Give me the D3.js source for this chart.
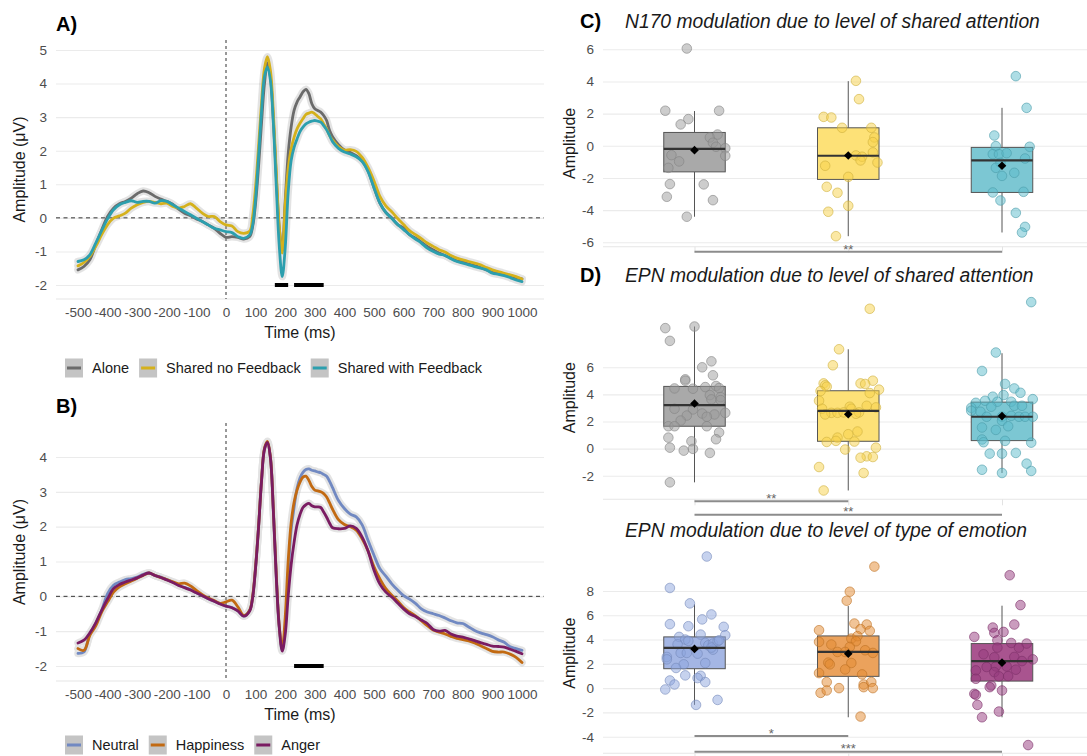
<!DOCTYPE html>
<html><head><meta charset="utf-8">
<script src="https://cdn.jsdelivr.net/npm/d3@7"></script>
<style>
body{margin:0;background:#fff;}
svg text{font-family:"Liberation Sans",Arial,Helvetica,sans-serif;}
</style></head><body>
<svg id="chart" width="1087" height="756"></svg>
<script>
// ---------------- ERP data ----------------
const timesMs = [-500,-480,-460,-440,-420,-400,-380,-360,-340,-320,-300,-280,-260,-240,-220,-200,-180,-160,-140,-120,-100,-80,-60,-40,-20,0,20,40,60,80,
 90,100,110,120,130,140,150,160,170,180,190,200,210,220,230,240,250,260,270,280,290,300,310,320,330,340,350,360,
 380,400,420,440,460,480,500,520,540,560,580,600,620,640,660,680,700,720,740,760,780,800,820,840,860,880,900,920,940,960,980,1000];

const erpAlone = [-1.55,-1.45,-1.25,-0.80,-0.36,0.04,0.29,0.42,0.49,0.59,0.72,0.80,0.75,0.64,0.56,0.49,0.41,0.26,0.14,0.06,-0.03,-0.11,-0.21,-0.31,-0.46,-0.58,-0.56,-0.58,-0.63,-0.56,
 -0.26,0.44,1.53,2.82,4.00,4.62,4.20,2.92,1.23,-0.30,-0.92,0.50,1.90,2.70,3.20,3.45,3.60,3.75,3.83,3.70,3.40,3.25,3.20,3.15,3.05,2.90,2.60,2.42,
 2.18,2.02,1.95,1.85,1.70,1.40,0.90,0.44,0.16,0.00,-0.20,-0.30,-0.50,-0.60,-0.72,-0.85,-0.95,-1.05,-1.12,-1.20,-1.28,-1.30,-1.38,-1.42,-1.48,-1.55,-1.62,-1.65,-1.70,-1.72,-1.78,-1.82];
const erpSharedNoFb = [-1.43,-1.33,-1.15,-0.85,-0.50,-0.20,-0.01,0.06,0.14,0.29,0.39,0.46,0.49,0.46,0.42,0.44,0.34,0.29,0.34,0.42,0.29,0.14,0.04,0.04,-0.11,-0.21,-0.24,-0.41,-0.46,-0.40,
 0.05,0.93,2.13,3.42,4.46,4.80,4.40,3.12,1.33,-0.26,-1.05,0.40,1.45,2.05,2.40,2.65,2.82,2.95,3.08,3.12,3.15,3.10,3.02,2.95,2.80,2.65,2.45,2.32,
 2.12,2.02,2.03,1.98,1.80,1.50,1.10,0.64,0.36,0.18,-0.02,-0.20,-0.38,-0.50,-0.62,-0.75,-0.85,-0.95,-1.02,-1.12,-1.20,-1.25,-1.30,-1.35,-1.40,-1.48,-1.55,-1.60,-1.65,-1.70,-1.75,-1.82];
const erpSharedFb = [-1.30,-1.25,-1.10,-0.75,-0.38,-0.03,0.24,0.39,0.46,0.51,0.46,0.49,0.49,0.44,0.51,0.49,0.39,0.29,0.19,0.09,-0.01,-0.11,-0.21,-0.31,-0.36,-0.41,-0.44,-0.56,-0.61,-0.51,
 -0.21,0.59,1.83,3.17,4.21,4.50,4.10,2.82,0.93,-0.85,-1.75,-0.90,0.75,1.70,2.10,2.35,2.57,2.70,2.80,2.85,2.88,2.90,2.88,2.85,2.75,2.62,2.45,2.27,
 2.07,1.96,1.90,1.82,1.68,1.38,0.90,0.44,0.16,-0.02,-0.20,-0.35,-0.50,-0.63,-0.75,-0.90,-1.00,-1.08,-1.12,-1.22,-1.30,-1.35,-1.40,-1.45,-1.50,-1.55,-1.65,-1.68,-1.72,-1.78,-1.85,-1.90];

const erpNeutral = [-1.64,-1.60,-1.08,-0.78,-0.40,0.08,0.32,0.41,0.48,0.51,0.55,0.63,0.67,0.60,0.55,0.48,0.41,0.32,0.25,0.20,0.10,0.02,-0.07,-0.14,-0.21,-0.28,-0.32,-0.42,-0.57,-0.40,
 -0.02,0.84,1.99,3.32,4.23,4.42,3.99,2.46,0.55,-0.88,-1.55,-0.90,0.60,1.90,2.55,3.10,3.40,3.56,3.64,3.66,3.62,3.60,3.57,3.55,3.50,3.45,3.30,3.12,
 2.75,2.52,2.36,2.28,2.05,1.60,1.18,0.79,0.58,0.36,0.18,0.02,-0.08,-0.20,-0.36,-0.45,-0.50,-0.55,-0.62,-0.70,-0.76,-0.78,-0.88,-0.98,-1.05,-1.10,-1.16,-1.25,-1.32,-1.45,-1.50,-1.55];
const erpHappiness = [-1.50,-1.55,-1.12,-0.85,-0.45,-0.16,0.12,0.27,0.36,0.44,0.52,0.60,0.67,0.60,0.54,0.48,0.42,0.36,0.38,0.30,0.17,0.05,-0.05,-0.12,-0.20,-0.16,-0.11,-0.30,-0.55,-0.40,
 0.00,0.86,2.00,3.33,4.25,4.45,4.00,2.50,0.60,-0.85,-1.50,-0.60,1.00,2.10,2.70,3.05,3.28,3.42,3.45,3.33,3.15,3.05,3.03,3.00,2.95,2.85,2.68,2.50,
 2.20,2.06,2.00,1.90,1.65,1.30,0.85,0.50,0.22,0.03,-0.13,-0.32,-0.45,-0.56,-0.70,-0.84,-0.97,-1.03,-1.08,-1.15,-1.21,-1.24,-1.28,-1.34,-1.42,-1.50,-1.58,-1.60,-1.60,-1.66,-1.75,-1.90];
const erpAnger = [-1.34,-1.26,-1.05,-0.76,-0.40,-0.07,0.22,0.34,0.41,0.47,0.53,0.61,0.67,0.60,0.54,0.47,0.40,0.31,0.25,0.18,0.10,0.02,-0.07,-0.14,-0.22,-0.28,-0.33,-0.42,-0.57,-0.42,
 -0.04,0.82,1.98,3.30,4.22,4.42,3.98,2.44,0.52,-0.90,-1.57,-1.10,0.00,0.90,1.55,2.05,2.35,2.55,2.63,2.67,2.60,2.57,2.57,2.55,2.42,2.27,2.10,1.97,
 1.94,1.95,2.02,1.95,1.70,1.30,0.75,0.35,0.12,-0.02,-0.19,-0.36,-0.50,-0.58,-0.68,-0.78,-0.95,-1.00,-0.98,-1.08,-1.14,-1.17,-1.22,-1.27,-1.33,-1.38,-1.43,-1.44,-1.46,-1.52,-1.58,-1.65];

const erpTicksX = [-500,-400,-300,-200,-100,0,100,200,300,400,500,600,700,800,900,1000];
const erpTicksYA = [-2,-1,0,1,2,3,4,5];
const erpTicksYB = [-2,-1,0,1,2,3,4];
const sigWindowsA = [[165,210],[230,330]];
const sigWindowsB = [[230,330]];
const attentionNames = ["Alone","Shared no Feedback","Shared with Feedback"];
const emotionNames = ["Neutral","Happiness","Anger"];

// ---------------- Box-plot data ----------------
const ticksC = [-6,-4,-2,0,2,4,6];
const ticksD = [-2,0,2,4,6];
const ticksE = [-4,-2,0,2,4,6,8];

const n170Q1 = [-1.62,-2.09,-2.90], n170Med = [-0.19,-0.62,-0.91], n170Q3 = [0.83,1.12,-0.10];
const n170Lo = [-4.41,-5.62,-5.39], n170Hi = [2.16,4.02,2.36], n170Mean = [-0.27,-0.60,-1.24];
const n170AloneVals = [6.05,2.18,2.18,1.66,1.33,0.52,0.70,0.19,-0.06,-0.15,-0.62,-0.58,-0.97,-1.37,-2.38,-2.40,-3.17,-3.38,-4.41];
const n170AloneJit  = [-0.05,-0.19,0.16,-0.04,-0.09,0.10,0.15,0.12,0.14,0.20,0.20,-0.15,-0.10,-0.17,-0.16,0.06,-0.18,0.12,-0.05];
const n170NoFbVals = [4.04,2.90,1.80,1.76,1.12,1.12,0.52,0.23,-0.41,-0.60,-0.68,-0.91,-1.04,-1.24,-1.93,-2.55,-2.92,-3.73,-4.10,-5.62];
const n170NoFbJit  = [0.05,0.07,-0.16,-0.11,-0.04,0.15,0.17,0.16,0.16,0.05,0.09,0.08,0.19,-0.15,0.00,-0.14,-0.07,0.00,-0.13,-0.08];
const n170FbVals = [4.33,2.36,0.64,-0.02,-0.06,-0.52,-0.52,-0.46,-0.79,-1.06,-1.37,-1.87,-1.68,-2.90,-2.86,-3.40,-4.17,-5.04,-5.39];
const n170FbJit  = [0.09,0.16,-0.05,-0.04,0.18,-0.06,-0.02,0.03,0.15,-0.01,-0.04,0.00,0.08,-0.06,0.14,-0.01,0.09,0.15,0.13];

const epnAttQ1 = [1.65,0.54,0.59], epnAttMed = [3.21,2.79,2.35], epnAttQ3 = [4.59,4.27,3.43];
const epnAttLo = [-2.49,-3.09,-1.80], epnAttHi = [9.01,7.33,7.04], epnAttMean = [3.33,2.54,2.40];
const epnAloneVals = [8.89,9.01,7.95,6.44,6.00,5.41,5.11,5.01,4.44,4.42,4.54,4.62,4.47,3.95,3.63,3.80,3.58,2.94,2.89,2.59,2.64,2.44,2.52,2.35,2.07,1.65,1.65,1.65,1.19,0.81,0.69,0.54,0.07,-0.02,-0.15,-0.32,-2.49];
const epnAloneJit  = [-0.19,0.00,-0.16,0.11,0.05,0.12,-0.06,-0.06,-0.13,-0.01,0.07,0.14,0.16,0.10,0.11,0.17,0.17,-0.13,-0.01,0.05,0.20,-0.05,0.13,0.08,-0.09,-0.17,-0.13,0.08,0.16,-0.17,0.14,-0.02,-0.16,-0.01,-0.07,0.10,-0.16];
const epnNoFbVals = [10.32,7.33,6.15,4.81,4.67,4.57,4.25,5.01,4.81,4.77,4.35,4.10,3.53,3.16,3.09,2.94,3.04,2.94,2.64,2.52,2.64,2.67,2.67,2.57,1.26,1.06,0.81,0.49,0.57,0.52,0.07,-0.07,-0.57,-0.67,-0.62,-1.36,-1.80,-3.09];
const epnNoFbJit  = [0.14,-0.06,-0.10,-0.16,-0.15,-0.14,-0.18,0.16,0.08,0.11,0.20,0.14,-0.19,0.12,0.01,0.02,0.18,-0.17,-0.11,-0.15,-0.07,-0.03,0.07,0.05,0.06,0.00,-0.07,-0.14,-0.08,0.04,0.18,-0.02,0.12,0.08,0.16,-0.19,0.10,-0.16];
const epnFbVals = [10.81,7.09,5.73,4.77,4.44,4.12,3.83,3.95,3.38,3.53,3.46,3.46,3.65,3.01,2.72,3.09,3.16,3.16,2.79,2.35,2.35,2.42,2.35,2.35,2.35,2.05,1.65,1.56,1.38,0.67,0.47,0.57,0.44,-0.37,-0.37,-0.32,-1.56,-1.80,-1.11,-1.65];
const epnFbJit  = [0.19,-0.04,-0.13,0.02,0.08,0.12,-0.06,0.01,-0.17,-0.11,-0.03,0.06,0.20,-0.20,-0.14,-0.07,0.08,0.13,-0.20,-0.10,0.00,0.06,0.11,0.15,0.20,0.00,0.04,-0.13,-0.04,-0.13,-0.12,0.02,0.19,-0.08,0.00,0.09,-0.13,0.00,0.16,0.19];

const epnEmoQ1 = [1.60,0.97,0.58], epnEmoMed = [3.31,2.98,2.23], epnEmoQ3 = [4.22,4.30,3.67];
const epnEmoLo = [-1.38,-2.40,-2.40], epnEmoHi = [6.90,6.76,6.79], epnEmoMean = [3.23,2.84,2.10];
const neutralVals = [10.84,8.25,6.98,6.07,5.66,5.27,5.10,5.05,4.36,4.41,4.22,4.00,3.89,3.61,3.72,3.53,3.67,3.86,3.94,3.17,3.34,2.57,2.37,2.90,2.90,2.84,1.96,2.07,1.66,1.05,1.02,0.83,0.63,0.30,0.50,-0.11,-0.97,-1.38];
const neutralJit  = [0.08,-0.16,-0.03,0.11,0.05,-0.16,-0.04,0.19,0.20,0.04,-0.10,-0.06,-0.04,-0.11,0.07,0.09,0.12,0.15,0.16,0.12,0.11,-0.18,-0.18,-0.09,-0.05,0.02,-0.07,0.07,-0.12,-0.06,0.04,0.02,-0.16,-0.13,0.07,-0.19,0.15,0.01];
const happinessVals = [10.01,7.94,7.20,5.32,5.24,4.77,4.86,4.72,4.08,4.28,3.86,3.81,3.59,3.12,2.90,2.98,3.39,2.98,2.10,1.96,2.07,1.54,1.24,1.13,0.50,0.30,0.50,0.08,0.00,0.00,-0.39,-0.19,-2.34];
const happinessJit  = [0.17,0.01,-0.01,0.04,0.12,-0.19,0.08,0.14,0.02,0.06,0.05,-0.19,-0.11,0.11,0.16,-0.07,0.01,-0.02,-0.13,-0.12,0.02,-0.02,-0.19,0.09,-0.14,0.10,0.15,0.10,0.16,-0.06,-0.18,-0.14,0.08];
const angerVals = [9.30,6.84,5.24,4.99,4.55,4.22,4.63,3.94,3.72,3.34,3.67,3.34,2.79,2.54,2.57,2.23,2.37,1.74,1.79,1.79,1.46,1.32,1.52,0.97,0.99,0.77,0.22,0.08,-0.19,-0.47,-0.55,-1.38,-1.93,-2.40,-4.69];
const angerJit  = [0.05,0.12,0.08,-0.06,-0.05,-0.18,0.01,-0.03,0.06,0.11,0.16,-0.03,-0.12,-0.05,0.08,0.13,0.20,-0.10,-0.04,0.03,-0.17,-0.05,0.09,-0.02,0.04,-0.17,-0.07,-0.08,0.00,-0.18,-0.17,-0.16,-0.02,-0.13,0.17];

const bracketsC = [{from:1,to:3,label:"**"}];
const bracketsD = [{from:1,to:2,label:"**"},{from:1,to:3,label:"**"}];
const bracketsE = [{from:1,to:2,label:"*"},{from:1,to:3,label:"***"}];

// ---------------- styles ----------------
const lineColors = {Alone:"#6b6b6b","Shared no Feedback":"#d5b11c","Shared with Feedback":"#2c9fae",
  Neutral:"#7189c2",Happiness:"#c26a12",Anger:"#7a1c62"};
const boxFill = ["#a9a9a9","#fde177","#7cc7d3"];
const ptColor = ["#9c9c9c","#f7d24a","#5cbccb"];
const boxFillE = ["#a4b6e4","#eba25c","#a9548f"];
const ptColorE = ["#8ea5de","#e3892f","#963a7d"];

const svg = d3.select("#chart");
const FONT = '"Liberation Sans",Arial,Helvetica,sans-serif';
const plainNum = d => String(d);

function styleAxisText(sel, size){
  sel.attr("font-family",FONT).attr("font-size",size);
  sel.select(".domain").remove();
  sel.selectAll("text").attr("fill","#4d4d4d");
}

// ---------------- ERP panels ----------------
function erpPanel(cfg){
  const g = svg.append("g");
  const L = 56, R = 544;
  const x = d3.scaleLinear().domain([-500,1000]).range([78,522]);
  const y = d3.scaleLinear().domain(cfg.yRef).range(cfg.yRefPx);
  g.append("g").attr("transform",`translate(${L},0)`)
    .call(d3.axisLeft(y).tickValues(cfg.yTicks).tickSize(-(R-L)).tickFormat(""))
    .call(s=>{s.select(".domain").remove(); s.selectAll("line").attr("stroke","#ebebeb").attr("stroke-width",1.1);});
  g.append("line").attr("x1",L).attr("x2",R).attr("y1",cfg.bottom).attr("y2",cfg.bottom).attr("stroke","#e6e6e6").attr("stroke-width",1.1);
  g.append("g").attr("transform",`translate(${L},0)`)
    .call(d3.axisLeft(y).tickValues(cfg.yTicks).tickSize(0).tickPadding(9).tickFormat(plainNum))
    .call(s=>styleAxisText(s,13.5));
  g.append("g").attr("transform",`translate(0,${cfg.bottom})`)
    .call(d3.axisBottom(x).tickValues(erpTicksX).tickSize(0).tickPadding(8).tickFormat(plainNum))
    .call(s=>styleAxisText(s,13.5));
  g.append("line").attr("x1",L).attr("x2",R).attr("y1",y(0)).attr("y2",y(0))
    .attr("stroke","#333").attr("stroke-width",1).attr("stroke-dasharray","4,3.5");
  g.append("line").attr("x1",x(0)).attr("x2",x(0)).attr("y1",cfg.top).attr("y2",cfg.bottom)
    .attr("stroke","#333").attr("stroke-width",1).attr("stroke-dasharray","3,3");
  const line = d3.line().x((d,i)=>x(timesMs[i])).y(d=>y(d)).curve(d3.curveCatmullRom.alpha(0.5));
  const rib = g.append("g").attr("opacity",0.2);
  cfg.series.forEach(s=>rib.append("path").attr("d",line(s.values)).attr("fill","none")
    .attr("stroke","#7a7a7a").attr("stroke-width",7.5).attr("stroke-linejoin","round").attr("stroke-linecap","round"));
  cfg.series.forEach(s=>g.append("path").attr("d",line(s.values)).attr("fill","none")
    .attr("stroke",lineColors[s.name]).attr("stroke-width",2.8).attr("stroke-linejoin","round").attr("stroke-linecap","round"));
  cfg.sig.forEach(w=>g.append("line").attr("x1",x(w[0])).attr("x2",x(w[1])).attr("y1",y(-2)).attr("y2",y(-2))
    .attr("stroke","#000").attr("stroke-width",4));
  g.append("text").attr("x",(L+R)/2).attr("y",cfg.bottom+39).attr("text-anchor","middle")
    .attr("font-size",16).attr("fill","#1a1a1a").text("Time (ms)");
  g.append("text").attr("transform",`translate(25,${(cfg.top+cfg.bottom)/2}) rotate(-90)`).attr("text-anchor","middle")
    .attr("font-size",16).attr("fill","#1a1a1a").text("Amplitude (\u03bcV)");
  g.append("text").attr("x",56).attr("y",cfg.labelY).attr("font-size",20).attr("font-weight","bold").attr("fill","#000").text(cfg.label);
  let lx = 65;
  cfg.series.forEach(s=>{
    g.append("rect").attr("x",lx).attr("y",cfg.legendY-9.5).attr("width",18).attr("height",19).attr("fill","#c4c4c4");
    g.append("line").attr("x1",lx+2).attr("x2",lx+16).attr("y1",cfg.legendY).attr("y2",cfg.legendY)
      .attr("stroke",lineColors[s.name]).attr("stroke-width",3);
    const t = g.append("text").attr("x",lx+27).attr("y",cfg.legendY+5).attr("font-size",14.5).attr("fill","#1a1a1a").text(s.name);
    lx = lx + 27 + t.node().getComputedTextLength() + 10;
  });
}

erpPanel({yRef:[-2,5], yRefPx:[285,50], yTicks:erpTicksYA, top:40, bottom:299, sig:sigWindowsA,
  label:"A)", labelY:31, legendY:368,
  series:[{name:attentionNames[0],values:erpAlone},{name:attentionNames[1],values:erpSharedNoFb},{name:attentionNames[2],values:erpSharedFb}]});
erpPanel({yRef:[-2,4], yRefPx:[666,457], yTicks:erpTicksYB, top:423, bottom:681, sig:sigWindowsB,
  label:"B)", labelY:413, legendY:745,
  series:[{name:emotionNames[0],values:erpNeutral},{name:emotionNames[1],values:erpHappiness},{name:emotionNames[2],values:erpAnger}]});

// ---------------- Box panels ----------------
function boxPanel(cfg){
  const g = svg.append("g");
  const L = 603, R = 1087;
  const x = d3.scaleLinear().domain([1,3]).range([694.5,1002]);
  const y = d3.scaleLinear().domain(cfg.yRef).range(cfg.yRefPx);
  g.append("g").attr("transform",`translate(${L},0)`)
    .call(d3.axisLeft(y).tickValues(cfg.ticks).tickSize(-(R-L)).tickFormat(""))
    .call(s=>{s.select(".domain").remove(); s.selectAll("line").attr("stroke","#ebebeb").attr("stroke-width",1.1);});
  g.append("line").attr("x1",L).attr("x2",R).attr("y1",cfg.bottom).attr("y2",cfg.bottom).attr("stroke","#e6e6e6").attr("stroke-width",1.1);
  g.append("g").attr("transform",`translate(0,${cfg.bottom})`)
    .call(d3.axisBottom(x).tickValues([1,2,3]).tickSize(6).tickFormat(""))
    .call(s=>{s.select(".domain").remove(); s.selectAll("line").attr("stroke","#e3e3e3").attr("stroke-width",1);});
  g.append("g").attr("transform",`translate(${L},0)`)
    .call(d3.axisLeft(y).tickValues(cfg.ticks).tickSize(0).tickPadding(9).tickFormat(plainNum))
    .call(s=>styleAxisText(s,13.5));
  g.append("text").attr("transform",`translate(575,${(cfg.top+cfg.bottom)/2}) rotate(-90)`).attr("text-anchor","middle")
    .attr("font-size",16).attr("fill","#1a1a1a").text("Amplitude");
  if(cfg.letter) g.append("text").attr("x",580).attr("y",cfg.titleY).attr("font-size",20).attr("font-weight","bold").attr("fill","#000").text(cfg.letter);
  g.append("text").attr("x",625).attr("y",cfg.titleY).attr("font-size",19.3).attr("font-style","italic").attr("fill","#1a1a1a").text(cfg.title);
  const hw = 0.2;
  cfg.q1.forEach((q,i)=>{
    const c = i+1;
    g.append("line").attr("x1",x(c)).attr("x2",x(c)).attr("y1",y(cfg.hi[i])).attr("y2",y(cfg.q3[i])).attr("stroke","#555").attr("stroke-width",1);
    g.append("line").attr("x1",x(c)).attr("x2",x(c)).attr("y1",y(cfg.q1[i])).attr("y2",y(cfg.lo[i])).attr("stroke","#555").attr("stroke-width",1);
    g.append("rect").attr("x",x(c-hw)).attr("width",x(c+hw)-x(c-hw)).attr("y",y(cfg.q3[i])).attr("height",y(cfg.q1[i])-y(cfg.q3[i]))
      .attr("fill",cfg.fills[i]).attr("stroke","#555").attr("stroke-width",1);
  });
  cfg.points.forEach((p,i)=>{
    const c = i+1;
    g.append("g").selectAll("circle").data(p.vals).join("circle")
      .attr("cx",(d,k)=>x(c+p.jit[k])).attr("cy",d=>y(d)).attr("r",4.8)
      .attr("fill",cfg.ptColors[i]).attr("fill-opacity",0.5)
      .attr("stroke",d3.color(cfg.ptColors[i]).darker(0.5)).attr("stroke-opacity",0.6).attr("stroke-width",1);
  });
  cfg.q1.forEach((q,i)=>{
    const c = i+1;
    g.append("line").attr("x1",x(c-hw)).attr("x2",x(c+hw)).attr("y1",y(cfg.med[i])).attr("y2",y(cfg.med[i]))
      .attr("stroke","#333").attr("stroke-width",2.2);
    const mx = x(c), my = y(cfg.mean[i]), r = 4.3;
    g.append("path").attr("d",`M${mx},${my-r}L${mx+r},${my}L${mx},${my+r}L${mx-r},${my}Z`).attr("fill","#000");
  });
  cfg.brackets.forEach((b,k)=>{
    const yy = cfg.bracketY[k];
    g.append("line").attr("x1",x(b.from)).attr("x2",x(b.to)).attr("y1",yy).attr("y2",yy).attr("stroke","#8c8c8c").attr("stroke-width",2);
    g.append("text").attr("x",(x(b.from)+x(b.to))/2).attr("y",yy+cfg.labelOff).attr("text-anchor","middle")
      .attr("font-size",13).attr("fill","#666").text(b.label);
  });
}

boxPanel({letter:"C)", title:"N170 modulation due to level of shared attention", titleY:28,
  yRef:[-6,6], yRefPx:[242.3,49.3], ticks:ticksC, top:40, bottom:246.7,
  q1:n170Q1, med:n170Med, q3:n170Q3, lo:n170Lo, hi:n170Hi, mean:n170Mean, fills:boxFill, ptColors:ptColor,
  points:[{vals:n170AloneVals,jit:n170AloneJit},{vals:n170NoFbVals,jit:n170NoFbJit},{vals:n170FbVals,jit:n170FbJit}],
  brackets:bracketsC, bracketY:[251.7], labelOff:2.5});
boxPanel({letter:"D)", title:"EPN modulation due to level of shared attention", titleY:282,
  yRef:[-2,6], yRefPx:[475.7,367.3], ticks:ticksD, top:296, bottom:499.3,
  q1:epnAttQ1, med:epnAttMed, q3:epnAttQ3, lo:epnAttLo, hi:epnAttHi, mean:epnAttMean, fills:boxFill, ptColors:ptColor,
  points:[{vals:epnAloneVals,jit:epnAloneJit},{vals:epnNoFbVals,jit:epnNoFbJit},{vals:epnFbVals,jit:epnFbJit}],
  brackets:bracketsD, bracketY:[501.3,514.7], labelOff:1.5});
boxPanel({letter:null, title:"EPN modulation due to level of type of emotion", titleY:537,
  yRef:[-4,8], yRefPx:[736.7,591], ticks:ticksE, top:553, bottom:753.3,
  q1:epnEmoQ1, med:epnEmoMed, q3:epnEmoQ3, lo:epnEmoLo, hi:epnEmoHi, mean:epnEmoMean, fills:boxFillE, ptColors:ptColorE,
  points:[{vals:neutralVals,jit:neutralJit},{vals:happinessVals,jit:happinessJit},{vals:angerVals,jit:angerJit}],
  brackets:bracketsE, bracketY:[736,751.7], labelOff:1.5});
</script></body></html>
